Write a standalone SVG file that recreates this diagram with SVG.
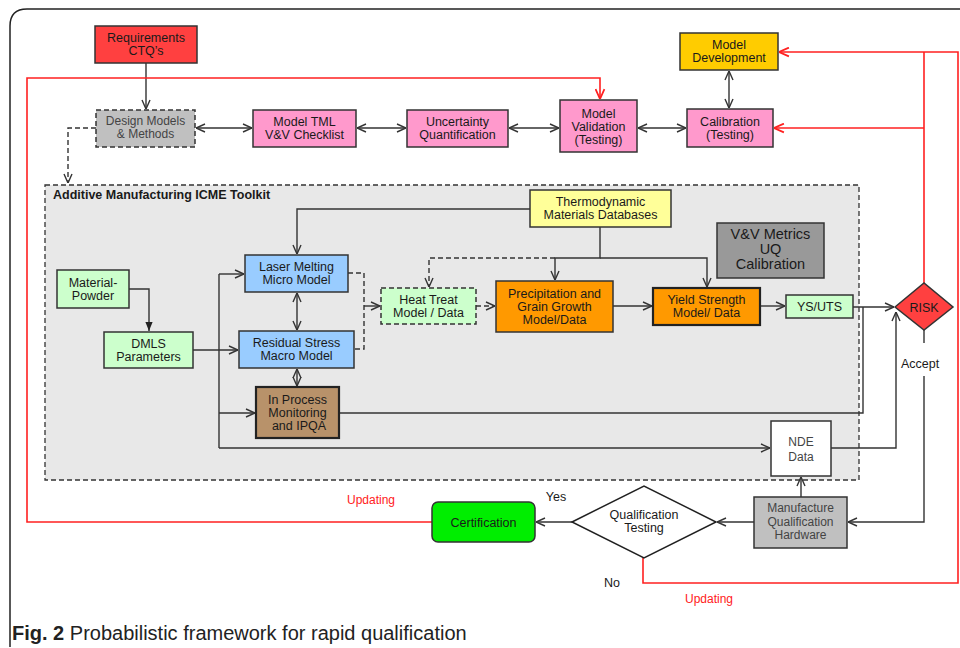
<svg xmlns="http://www.w3.org/2000/svg" width="960" height="648" viewBox="0 0 960 648">
<defs>
<style>
text{font-family:"Liberation Sans",Arial,sans-serif;font-size:12.5px;fill:#1a1a1a;text-anchor:middle}
.box{stroke:#333;stroke-width:1.5}
.pink{fill:#ff99cc}
.blue{fill:#99ccff}
.lg{fill:#ccffcc}
.org{fill:#ff9900}
.ln{fill:none;stroke:#333;stroke-width:1.4}
.dash{stroke-dasharray:5,3}
.red{fill:none;stroke:#ff2020;stroke-width:1.6}
.rt{fill:#ff2020;font-size:12px}
.gt{fill:#444;font-size:12px}
</style>
<marker id="a" viewBox="0 0 10 10" refX="10" refY="5" markerWidth="10" markerHeight="10" markerUnits="userSpaceOnUse" orient="auto-start-reverse">
<path d="M1,1 L10,5 L1,9" fill="none" stroke="#333" stroke-width="1.4"/>
</marker>
<marker id="r" viewBox="0 0 10 10" refX="10" refY="5" markerWidth="11" markerHeight="11" markerUnits="userSpaceOnUse" orient="auto-start-reverse">
<path d="M1,1 L10,5 L1,9" fill="none" stroke="#ff2020" stroke-width="1.6"/>
</marker>
<marker id="f" viewBox="0 0 10 10" refX="10" refY="5" markerWidth="9" markerHeight="9" markerUnits="userSpaceOnUse" orient="auto">
<path d="M0,1 L10,5 L0,9 Z" fill="#222"/>
</marker>
</defs>
<rect width="960" height="648" fill="#fff"/>
<path d="M10,647 V26 Q10,9 27,9 H960" fill="none" stroke="#222" stroke-width="1.5"/>

<g id="toolkit">
<rect x="45" y="185" width="814" height="295" fill="#e8e8e8" stroke="#333" stroke-width="1.3" stroke-dasharray="5,3"/>
<text x="53" y="199" style="font-weight:bold;font-size:12.5px;text-anchor:start">Additive Manufacturing ICME Toolkit</text>
</g>

<g id="connectors">
<path class="ln" d="M146,63 V109" marker-end="url(#a)"/>
<path class="ln" d="M196,128 H252" marker-start="url(#a)" marker-end="url(#a)"/>
<path class="ln" d="M357,128 H406" marker-start="url(#a)" marker-end="url(#a)"/>
<path class="ln" d="M509,128 H559" marker-start="url(#a)" marker-end="url(#a)"/>
<path class="ln" d="M638,128 H686" marker-start="url(#a)" marker-end="url(#a)"/>
<path class="ln" d="M729,71 V108" marker-start="url(#a)" marker-end="url(#a)"/>
<path class="ln dash" d="M96,128 H68 V183" marker-end="url(#a)"/>
<path class="red" d="M432,522 H27 V78 H600 V99" marker-end="url(#r)"/>
<path class="red" d="M643,558 V583 H958 V52 H779" marker-end="url(#r)"/>
<path class="red" d="M924,283 V52"/>
<path class="red" d="M924,128 H774" marker-end="url(#r)"/>
<path class="ln" d="M530,209 H297 V254" marker-end="url(#a)"/>
<path class="ln" d="M297,293 V330" marker-start="url(#a)" marker-end="url(#a)"/>
<path class="ln" d="M297,369 V386" marker-start="url(#a)" marker-end="url(#a)"/>
<path class="ln" d="M129,289 H149 V331" marker-end="url(#f)"/>
<path class="ln" d="M193,350 H238" marker-end="url(#a)"/>
<path class="ln" d="M219,274 V448"/>
<path class="ln" d="M219,274 H244" marker-end="url(#a)"/>
<path class="ln" d="M219,413 H255" marker-end="url(#a)"/>
<path class="ln" d="M219,448 H770" marker-end="url(#a)"/>
<path class="ln dash" d="M348,273 H364 V349 H354"/>
<path class="ln" d="M364,306 H380" marker-end="url(#a)"/>
<path class="ln dash" d="M476,306 H495" marker-end="url(#a)"/>
<path class="ln" d="M600,227 V258 H555 V280" marker-end="url(#a)"/>
<path class="ln" d="M600,258 H707 V287" marker-end="url(#a)"/>
<path class="ln dash" d="M555,258 H429 V287" marker-end="url(#a)"/>
<path class="ln" d="M613,306 H652" marker-end="url(#a)"/>
<path class="ln" d="M760,306 H785" marker-end="url(#a)"/>
<path class="ln" d="M853,307 H894" marker-end="url(#a)"/>
<path class="ln" d="M339,413 H863 V307"/>
<path class="ln" d="M831,448 H896 V312" marker-end="url(#a)"/>
<path class="ln" d="M924,330 V343"/>
<path class="ln" d="M924,376 V522 H848" marker-end="url(#a)"/>
<path class="ln" d="M754,522 H717" marker-end="url(#a)"/>
<path class="ln" d="M572,522 H536" marker-end="url(#a)"/>
<path class="ln" d="M801,497 V477" marker-end="url(#a)"/>
</g>

<g id="requirements"><rect class="box" x="95" y="26" width="102" height="37" fill="#ff4040"/><text x="146" y="42">Requirements<tspan x="146" dy="13">CTQ’s</tspan></text></g>
<g id="design"><rect x="96" y="110" width="99" height="37" fill="#c0c0c0" stroke="#333" stroke-width="1.5" stroke-dasharray="5,3"/><text class="gt" x="145.5" y="125">Design Models<tspan x="145.5" dy="13">&amp; Methods</tspan></text></g>
<g id="tml"><rect class="box pink" x="253" y="110" width="103" height="37"/><text x="304.5" y="126">Model TML<tspan x="304.5" dy="13">V&amp;V Checklist</tspan></text></g>
<g id="uq"><rect class="box pink" x="407" y="110" width="101" height="37"/><text x="457.5" y="126">Uncertainty<tspan x="457.5" dy="13">Quantification</tspan></text></g>
<g id="validation"><rect class="box pink" x="560" y="100" width="77" height="52"/><text x="598.5" y="117.5">Model<tspan x="598.5" dy="13">Validation</tspan><tspan x="598.5" dy="13">(Testing)</tspan></text></g>
<g id="calibration"><rect class="box pink" x="687" y="109" width="86" height="38"/><text x="730" y="125.5">Calibration<tspan x="730" dy="13">(Testing)</tspan></text></g>
<g id="modeldev"><rect class="box" x="680" y="33" width="98" height="37" fill="#ffcc00"/><text x="729" y="48.5">Model<tspan x="729" dy="13">Development</tspan></text></g>

<g id="thermo"><rect class="box" x="530" y="190" width="141" height="37" fill="#ffff99"/><text x="600.5" y="206">Thermodynamic<tspan x="600.5" dy="13">Materials Databases</tspan></text></g>
<g id="vv"><rect class="box" x="717" y="223" width="107" height="55" fill="#999"/><text x="770.5" y="238.5" style="font-size:14.5px">V&amp;V Metrics<tspan x="770.5" dy="15">UQ</tspan><tspan x="770.5" dy="15">Calibration</tspan></text></g>
<g id="material"><rect class="box lg" x="57" y="270" width="72" height="38"/><text x="93" y="286.5">Material-<tspan x="93" dy="13">Powder</tspan></text></g>
<g id="dmls"><rect class="box lg" x="104" y="332" width="89" height="36"/><text x="148.5" y="347.5">DMLS<tspan x="148.5" dy="13">Parameters</tspan></text></g>
<g id="laser"><rect class="box blue" x="245" y="255" width="103" height="37"/><text x="296.5" y="271">Laser Melting<tspan x="296.5" dy="13">Micro Model</tspan></text></g>
<g id="residual"><rect class="box blue" x="239" y="331" width="115" height="37"/><text x="296.5" y="347">Residual Stress<tspan x="296.5" dy="13">Macro Model</tspan></text></g>
<g id="ipqa"><rect x="256" y="387" width="83" height="51" fill="#b8926a" stroke="#222" stroke-width="2.2"/><text x="297.5" y="404">In Process<tspan x="297.5" dy="13">Monitoring</tspan><tspan x="299" dy="13">and IPQA</tspan></text></g>
<g id="heattreat"><rect x="381" y="288" width="95" height="36" fill="#ccffcc" stroke="#333" stroke-width="1.5" stroke-dasharray="5,3"/><text x="428.5" y="303.5">Heat Treat<tspan x="428.5" dy="13">Model / Data</tspan></text></g>
<g id="precip"><rect class="box org" x="496" y="281" width="117" height="51"/><text x="554.5" y="298">Precipitation and<tspan x="554.5" dy="13">Grain Growth</tspan><tspan x="554.5" dy="13">Model/Data</tspan></text></g>
<g id="yield"><rect class="org" x="653" y="288" width="107" height="37" stroke="#222" stroke-width="2.2"/><text x="706.5" y="304">Yield Strength<tspan x="706.5" dy="13">Model/ Data</tspan></text></g>
<g id="ysuts"><rect class="box lg" x="786" y="295" width="67" height="23"/><text x="819.5" y="311">YS/UTS</text></g>
<g id="nde"><rect class="box" x="771" y="421" width="60" height="55" fill="#fff"/><text class="gt" x="801" y="446">NDE<tspan x="801" dy="15">Data</tspan></text></g>

<g id="risk"><polygon points="895,307 924,283 953,307 924,330" fill="#ff4040" stroke="#333" stroke-width="1.5"/><text x="924" y="312">RISK</text></g>
<text x="920" y="368">Accept</text>

<g id="manufacture"><rect class="box" x="754" y="497" width="93" height="51" fill="#c0c0c0"/><text class="gt" x="800.5" y="512">Manufacture<tspan x="800.5" dy="13.5">Qualification</tspan><tspan x="800.5" dy="13.5">Hardware</tspan></text></g>
<g id="qualtest"><polygon points="572,522 644,486 716,522 644,558" fill="#fff" stroke="#222" stroke-width="1.5"/><text x="644" y="519">Qualification<tspan x="644" dy="13">Testing</tspan></text></g>
<g id="certification"><rect x="432" y="502" width="103" height="40" rx="6" fill="#00ee00" stroke="#333" stroke-width="1.5"/><text x="483.5" y="526.5">Certification</text></g>

<text x="556" y="501">Yes</text>
<text x="612" y="587">No</text>
<text class="rt" x="371" y="504">Updating</text>
<text class="rt" x="709" y="603">Updating</text>

<text x="12" y="640" style="text-anchor:start;font-size:20px;fill:#222"><tspan font-weight="bold">Fig. 2</tspan> Probabilistic framework for rapid qualification</text>
</svg>
